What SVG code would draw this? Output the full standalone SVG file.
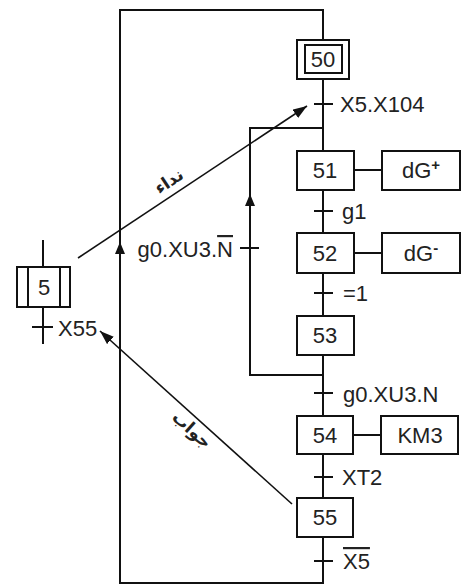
<svg xmlns="http://www.w3.org/2000/svg" width="470" height="586" viewBox="0 0 470 586">
<style>
.b{fill:#fff;stroke:#111;stroke-width:2}
.l{fill:none;stroke:#111;stroke-width:2}
.a{fill:none;stroke:#111;stroke-width:1.6}
.t{font-family:"Liberation Sans",Arial,sans-serif;font-size:22px;fill:#222}
.c{text-anchor:middle}
.ar{font-family:"DejaVu Sans",sans-serif;font-size:17px;font-weight:bold;fill:#222;text-anchor:middle}
</style>
<defs>
<marker id="ah" viewBox="0 0 14 10" refX="14" refY="5" markerWidth="14" markerHeight="10" markerUnits="userSpaceOnUse" orient="auto">
<path d="M0,0 L14,5 L0,10 z" fill="#111"/>
</marker>
</defs>
<rect width="470" height="586" fill="#fff"/>
<g id="connectors">
<path class="l" d="M323,40 V10 H120 V583 H323 V537"/>
<path d="M120,242 l-5,12 h10 z" fill="#111"/>
<path class="l" d="M323,79 V151 M323,190 V233 M323,273 V316 M323,355 V416 M323,454 V498"/>
<path class="l" d="M323,375 H250 V128 H323"/>
<path d="M250,194 l-5,12 h10 z" fill="#111"/>
<path class="l" d="M43,240 V267 M43,307 V344"/>
<path class="l" d="M314,104 H333 M314,211 H333 M314,293 H333 M314,393 H333 M314,477 H333 M314,561 H333 M240,248 H259 M32,327 H53"/>
<path class="l" d="M354,170 H382 M354,253 H382 M353,435 H381"/>
<line class="a" x1="78" y1="258" x2="307" y2="106" marker-end="url(#ah)"/>
<line class="a" x1="292" y1="504" x2="100" y2="331" marker-end="url(#ah)"/>
</g>
<g id="s50"><rect class="b" x="297" y="40" width="52" height="39"/><rect class="b" x="305" y="45" width="37" height="28"/><text class="t c" x="323" y="67">50</text></g>
<g id="s51"><rect class="b" x="297" y="151" width="57" height="39"/><text class="t c" x="325" y="178">51</text></g>
<g id="a51"><rect class="b" x="382" y="151" width="78" height="39"/><text class="t c" x="421" y="178">dG<tspan font-size="15" font-weight="bold" dy="-8">+</tspan></text></g>
<g id="s52"><rect class="b" x="297" y="233" width="57" height="40"/><text class="t c" x="325" y="261">52</text></g>
<g id="a52"><rect class="b" x="382" y="233" width="78" height="40"/><text class="t c" x="421" y="261">dG<tspan font-size="15" font-weight="bold" dy="-8">-</tspan></text></g>
<g id="s53"><rect class="b" x="297" y="316" width="57" height="39"/><text class="t c" x="325" y="343">53</text></g>
<g id="s54"><rect class="b" x="297" y="416" width="56" height="38"/><text class="t c" x="325" y="443">54</text></g>
<g id="a54"><rect class="b" x="381" y="416" width="77" height="38"/><text class="t c" x="420" y="443">KM3</text></g>
<g id="s55"><rect class="b" x="297" y="498" width="56" height="39"/><text class="t c" x="325" y="525">55</text></g>
<g id="s5"><rect class="b" x="17" y="267" width="53" height="40"/><path class="l" d="M28,267 V307 M60,267 V307"/><text class="t c" x="44" y="295">5</text></g>
<g id="labels">
<text class="t" x="340" y="112">X5.X104</text>
<text class="t" x="342" y="219">g1</text>
<text class="t" x="343" y="301">=1</text>
<text class="t" x="343" y="402">g0.XU3.N</text>
<text class="t" x="342" y="485">XT2</text>
<text class="t" x="343" y="569"><tspan style="text-decoration:overline">X5</tspan></text>
<text class="t" x="233" y="257" text-anchor="end">g0.XU3.<tspan style="text-decoration:overline">N</tspan></text>
<text class="t" x="58" y="336">X55</text>
<text class="ar" transform="translate(172,186) rotate(-33.6)">نداء</text>
<text class="ar" transform="translate(188,434) rotate(42)">جواب</text>
</g>
</svg>
